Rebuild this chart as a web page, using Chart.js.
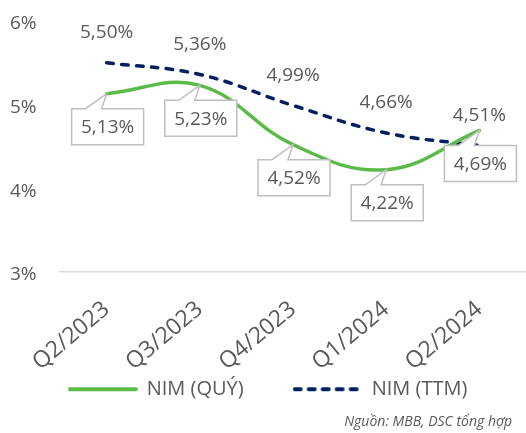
<!DOCTYPE html>
<html>
<head>
<meta charset="utf-8">
<script src="https://cdn.jsdelivr.net/npm/chart.js@4"></script>
<style>
  body { margin: 0; background: #fff; }
  #wrap { width: 526px; height: 433px; }
</style>
</head>
<body>
<div id="wrap"><canvas id="nim"></canvas></div>
<script>
const quarters = ['Q2/2023', 'Q3/2023', 'Q4/2023', 'Q1/2024', 'Q2/2024'];
const nimQuy = [5.13, 5.23, 4.52, 4.22, 4.69];
const nimTtm = [5.50, 5.36, 4.99, 4.66, 4.51];
const yTicks = [3, 4, 5, 6];
const sourceNote = 'Nguồn: MBB, DSC tổng hợp';

const grey = '#595959';
const green = '#5bbb47';
const navy = '#002060';
Chart.defaults.font.family = "'Open Sans', sans-serif";
Chart.defaults.color = grey;

function fmt(v) {
  return v.toFixed(2).replace('.', ',') + '%';
}

// little line samples for the legend (the built-in one drops the dash when using point styles)
function legendSwatch(color, dash) {
  const c = document.createElement('canvas');
  c.width = 70;
  c.height = 8;
  const g = c.getContext('2d');
  g.strokeStyle = color;
  g.lineWidth = 4;
  g.lineCap = 'round';
  g.setLineDash(dash);
  g.beginPath();
  g.moveTo(2, 4);
  g.lineTo(68, 4);
  g.stroke();
  return c;
}

// value labels: plain text above the TTM line, callout boxes under the quarterly line
const valueLabels = {
  id: 'valueLabels',
  afterDatasetsDraw(chart) {
    const ctx = chart.ctx;
    ctx.save();
    ctx.font = "19px 'Open Sans', sans-serif";
    ctx.fillStyle = grey;
    ctx.textAlign = 'center';
    ctx.textBaseline = 'middle';

    chart.getDatasetMeta(1).data.forEach((pt, i) => {
      ctx.fillText(fmt(nimTtm[i]), pt.x, pt.y - 30);
    });

    chart.getDatasetMeta(0).data.forEach((pt, i) => {
      const cx = pt.x + 1, w = 72, h = 36;
      const top = pt.y + 15, left = cx - w / 2, right = cx + w / 2;
      ctx.beginPath();
      ctx.moveTo(left, top);
      ctx.lineTo(cx - 22, top);
      ctx.lineTo(pt.x, pt.y);
      ctx.lineTo(cx - 6, top);
      ctx.lineTo(right, top);
      ctx.lineTo(right, top + h);
      ctx.lineTo(left, top + h);
      ctx.closePath();
      ctx.fillStyle = '#fff';
      ctx.fill();
      ctx.strokeStyle = '#bfbfbf';
      ctx.lineWidth = 1.5;
      ctx.stroke();
      ctx.fillStyle = grey;
      ctx.fillText(fmt(nimQuy[i]), cx, top + h / 2 + 1);
    });
    ctx.restore();
  },
  afterLayout(chart) {
    // rotated quarter labels run down past the legend's top edge; let them show
    chart.scales.x.bottom = chart.height;
    // pull the source note in from the right edge
    chart.boxes.forEach(b => {
      if (b.options && b.options.text === sourceNote) b.right -= 14;
    });
  }
};

new Chart(document.getElementById('nim'), {
  type: 'line',
  data: {
    labels: quarters,
    datasets: [{
      label: 'NIM (QUÝ)',
      data: nimQuy,
      borderColor: green,
      backgroundColor: green,
      borderWidth: 3.5,
      borderCapStyle: 'round',
      tension: 0.4,
      pointRadius: 0,
      pointStyle: legendSwatch(green, [])
    }, {
      label: 'NIM (TTM)',
      data: nimTtm,
      borderColor: navy,
      backgroundColor: navy,
      borderWidth: 3.5,
      borderCapStyle: 'round',
      borderDash: [6.5, 8.5],
      tension: 0.4,
      pointRadius: 0,
      pointStyle: legendSwatch(navy, [6, 8])
    }]
  },
  options: {
    responsive: true,
    maintainAspectRatio: false,
    animation: false,
    layout: { padding: { left: 10, top: 21, right: 0, bottom: 3 } },
    plugins: {
      tooltip: { enabled: false },
      legend: {
        position: 'bottom',
        labels: {
          usePointStyle: true,
          pointStyleWidth: 68,
          padding: 50,
          color: grey,
          font: { size: 20 }
        }
      },
      subtitle: {
        display: true,
        position: 'bottom',
        align: 'end',
        text: sourceNote,
        color: grey,
        font: { size: 14, style: 'italic', weight: 'normal' },
        padding: { top: 4, bottom: 0 }
      }
    },
    scales: {
      x: {
        offset: true,
        grid: { display: false, drawTicks: false },
        border: { display: true, color: '#d9d9d9', width: 1.5 },
        ticks: { minRotation: 40, maxRotation: 40, padding: 24, color: grey, font: { size: 23 } },
        afterFit(scale) { scale.height = 57.5; }
      },
      y: {
        min: 3,
        max: 6,
        grid: { display: false, drawTicks: false },
        border: { display: false },
        afterBuildTicks(scale) { scale.ticks = yTicks.map(v => ({ value: v })); },
        ticks: { padding: 0, crossAlign: 'far', labelOffset: 3, color: grey, font: { size: 19 }, callback: v => v + '%' },
        afterFit(scale) { scale.width = 50; }
      }
    }
  },
  plugins: [valueLabels]
});
</script>
</body>
</html>
